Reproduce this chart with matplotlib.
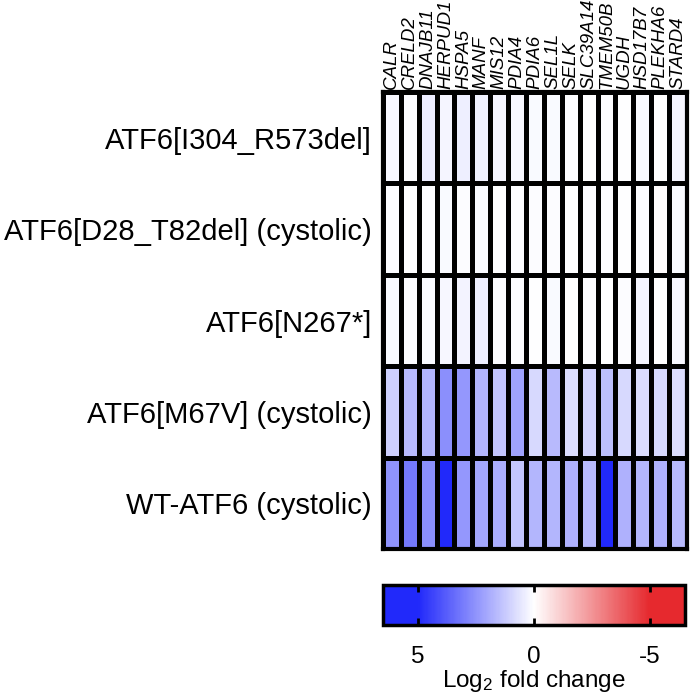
import matplotlib
matplotlib.use("Agg")
import matplotlib.pyplot as plt
import numpy as np
from matplotlib.colors import LinearSegmentedColormap, Normalize

plt.rcParams["font.family"] = ["Liberation Sans", "DejaVu Sans"]
plt.rcParams["mathtext.default"] = "regular"

genes = ["CALR", "CRELD2", "DNAJB11", "HERPUD1", "HSPA5", "MANF", "MIS12", "PDIA4",
         "PDIA6", "SEL1L", "SELK", "SLC39A14", "TMEM50B", "UGDH", "HSD17B7",
         "PLEKHA6", "STARD4"]
conditions = ["ATF6[I304_R573del]", "ATF6[D28_T82del] (cystolic)", "ATF6[N267*]",
              "ATF6[M67V] (cystolic)", "WT-ATF6 (cystolic)"]

# log2 fold change, one list per condition
i304 = [0.2, 0.1, 0.45, 0.25, 0.4, 0.35, 0.25, 0.2, 0.15, 0.15, 0.1, 0.05, 0.1, 0.0, 0.15, -0.05, 0.25]
d28 = [0.1, 0.02, 0.1, 0.12, 0.1, 0.15, 0.05, 0.1, 0.1, 0.1, 0.05, 0.1, 0.1, 0.0, 0.1, -0.08, 0.12]
n267 = [0.12, 0.08, 0.15, 0.2, 0.3, 0.4, 0.1, 0.1, 0.02, 0.12, -0.03, 0.1, 0.0, 0.08, 0.25, -0.03, 0.2]
m67v = [1.1, 1.6, 1.7, 2.6, 2.4, 1.7, 1.35, 2.15, 0.9, 1.6, 0.8, 1.0, 1.5, 0.9, 0.8, 0.9, 0.8]
wt = [2.5, 3.1, 2.6, 5.5, 2.4, 2.05, 1.9, 1.35, 1.7, 1.7, 1.8, 1.6, 5.3, 1.8, 1.7, 1.8, 1.6]

cbar_ticks = [5, 0, -5]
cbar_ticklabels = ["5", "0", "-5"]

data = np.array([i304, d28, n267, m67v, wt])

lim = 6.5
red = (0.90, 0.16, 0.18)
blue = (0.13, 0.16, 0.98)
cmap = LinearSegmentedColormap.from_list(
    "rwb",
    [(0.0, red), (1.5 / 13, red), (0.5, (1, 1, 1)), (11.5 / 13, blue), (1.0, blue)],
)
norm = Normalize(vmin=-lim, vmax=lim)

fig = plt.figure(figsize=(6.9, 6.96), dpi=100)
ax = fig.add_axes([0.555, 0.2112, 0.4406, 0.6566])
mesh = ax.pcolormesh(data, cmap=cmap, norm=norm, edgecolors="black", linewidth=2.2)
ax.set_xlim(0, len(genes))
ax.set_ylim(len(conditions), 0)

ax.xaxis.tick_top()
ax.set_xticks(np.arange(len(genes)) + 0.5)
ax.set_xticklabels(genes, rotation=90, fontstyle="italic", fontsize=13.5)
ax.set_yticks(np.arange(len(conditions)) + 0.5)
ax.set_yticklabels(conditions, fontsize=21)
ax.tick_params(axis="both", length=0)
ax.tick_params(axis="x", pad=2)
ax.tick_params(axis="y", pad=8)
for s in ax.spines.values():
    s.set_linewidth(3)

cax = fig.add_axes([0.555, 0.102, 0.4377, 0.0575])
cb = fig.colorbar(mesh, cax=cax, orientation="horizontal")
cax.set_xlim(lim, -lim)
cb.set_ticks(cbar_ticks)
cb.set_ticklabels(cbar_ticklabels)
cax.tick_params(axis="x", direction="in", length=5, width=2, top=True, bottom=True,
                labelsize=17.5, pad=15)
cb.outline.set_linewidth(2.5)
cb.set_label("Log$_2$ fold change", fontsize=17.5, labelpad=0)

fig.savefig("out.png", dpi=100)
